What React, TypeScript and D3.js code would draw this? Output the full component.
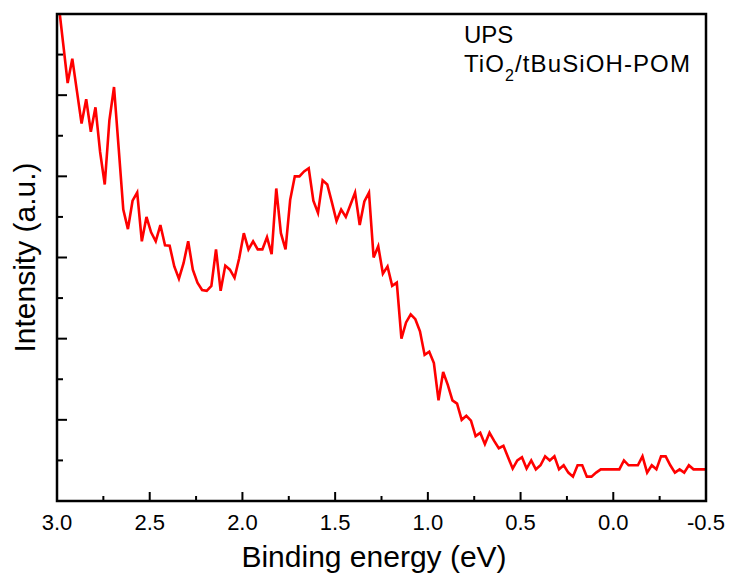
import React from "react";
import * as d3 from "d3";

// UPS spectrum, sampled every 0.025 eV from 2.9925 eV down to -0.5075 eV
const energyStart = 2.9925;
const energyStep = 0.025;
const intensity = [
  6150, 5650, 5150, 5450, 5050, 4650, 4950, 4550, 4850, 4300,
  3900, 4690, 5100, 4350, 3590, 3350, 3700, 3800, 3200, 3500,
  3310, 3200, 3400, 3150, 3145, 2890, 2740, 2930, 3200, 2850,
  2690, 2600, 2590, 2650, 3100, 2590, 2900, 2850, 2750, 2990,
  3300, 3100, 3200, 3100, 3100, 3250, 3040, 3850, 3300, 3100,
  3710, 4000, 4000, 4060, 4100, 3700, 3550, 3950, 3900, 3680,
  3450, 3590, 3500, 3650, 3800, 3400, 3690, 3800, 3000, 3140,
  2800, 2890, 2650, 2690, 2000, 2200, 2300, 2240, 2090, 1800,
  1840, 1700, 1240, 1590, 1430, 1240, 1200, 1000, 1050, 990,
  800, 840, 700, 840, 740, 650, 680, 540, 400, 500,
  540, 400, 500, 390, 440, 550, 500, 550, 390, 440,
  350, 300, 440, 440, 300, 300, 350, 390, 390, 390,
  390, 390, 500, 440, 440, 440, 550, 350, 440, 390,
  550, 550, 440, 350, 390, 350, 440, 390, 390, 390,
  390,
];
const energies = intensity.map((_, i) => energyStart - i * energyStep);

const xDomain = [3.0, -0.5];
const yDomain = [0, 6000];
const xMajorTicks = [3.0, 2.5, 2.0, 1.5, 1.0, 0.5, 0.0, -0.5];
const xTickLabels = ["3.0", "2.5", "2.0", "1.5", "1.0", "0.5", "0.0", "-0.5"];
const xMinorTicks = [2.75, 2.25, 1.75, 1.25, 0.75, 0.25, -0.25];
const yMajorTicks = [1000, 2000, 3000, 4000, 5000];
const yMinorTicks = [500, 1500, 2500, 3500, 4500, 5500];

const xTitle = "Binding energy (eV)";
const yTitle = "Intensity (a.u.)";
const noteLine1 = "UPS";
const noteLine2a = "TiO";
const noteLine2sub = "2";
const noteLine2b = "/tBuSiOH-POM";

const W = 729;
const H = 575;
const left = 57;
const right = 706;
const top = 14;
const bottom = 501;
const FONT = "'Liberation Sans', Arial, Helvetica, sans-serif";

export default function App() {
  const x = d3.scaleLinear().domain(xDomain).range([left, right]);
  const y = d3.scaleLinear().domain(yDomain).range([bottom, top]);
  const points: [number, number][] = energies.map((e, i) => [e, intensity[i]]);
  const line = d3
    .line<[number, number]>()
    .x((d) => x(d[0]))
    .y((d) => y(d[1]));

  return (
    <svg
      width={W}
      height={H}
      style={{ position: "absolute", left: 0, top: 0, background: "#fff" }}
      fontFamily={FONT}
    >
      <defs>
        <clipPath id="plotClip">
          <rect x={left} y={top} width={right - left} height={bottom - top} />
        </clipPath>
      </defs>
      <rect x={0} y={0} width={W} height={H} fill="#fff" />
      <path
        d={line(points) || ""}
        fill="none"
        stroke="#ff0000"
        strokeWidth={2.6}
        strokeLinejoin="miter"
        clipPath="url(#plotClip)"
      />
      {/* y ticks (inward) */}
      {yMajorTicks.map((t) => (
        <line key={"ym" + t} x1={left} x2={left + 10} y1={y(t)} y2={y(t)} stroke="#000" strokeWidth={2} />
      ))}
      {yMinorTicks.map((t) => (
        <line key={"yn" + t} x1={left} x2={left + 6} y1={y(t)} y2={y(t)} stroke="#000" strokeWidth={2} />
      ))}
      {/* x ticks (inward) */}
      {xMajorTicks.map((t) => (
        <line key={"xm" + t} x1={x(t)} x2={x(t)} y1={bottom} y2={bottom - 9} stroke="#000" strokeWidth={2} />
      ))}
      {xMinorTicks.map((t) => (
        <line key={"xn" + t} x1={x(t)} x2={x(t)} y1={bottom} y2={bottom - 5} stroke="#000" strokeWidth={2} />
      ))}
      {/* frame */}
      <rect
        x={left}
        y={top}
        width={right - left}
        height={bottom - top}
        fill="none"
        stroke="#000"
        strokeWidth={2.5}
      />
      {/* x tick labels */}
      {xMajorTicks.map((t, i) => (
        <text key={"xl" + t} x={x(t)} y={530} textAnchor="middle" fontSize={22} fill="#000">
          {xTickLabels[i]}
        </text>
      ))}
      <text x={374} y={567} textAnchor="middle" fontSize={30} fill="#000">
        {xTitle}
      </text>
      <text
        transform={`translate(35, ${(top + bottom) / 2}) rotate(-90)`}
        textAnchor="middle"
        fontSize={30}
        fill="#000"
      >
        {yTitle}
      </text>
      <text x={464} y={43} fontSize={24} fill="#000">
        {noteLine1}
      </text>
      <text x={464} y={72} fontSize={24} fill="#000" letterSpacing={1.1}>
        {noteLine2a}
        <tspan fontSize={16} dy={9}>
          {noteLine2sub}
        </tspan>
        <tspan dy={-9}>{noteLine2b}</tspan>
      </text>
    </svg>
  );
}
